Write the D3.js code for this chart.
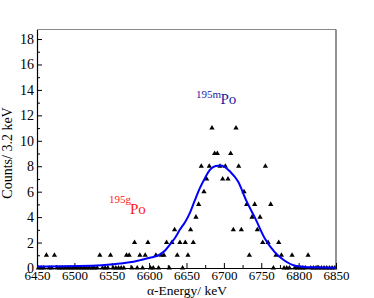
<!DOCTYPE html>
<html>
<head>
<meta charset="utf-8">
<script src="https://cdn.jsdelivr.net/npm/d3@7"></script>
<style>
  body { margin: 0; background: #fff; }
</style>
</head>
<body>
<svg id="chart" width="374" height="298"></svg>
<script>
// histogram: first bin centre and bin width (keV), counts per bin
const binStart = 6451.9;
const binWidth = 3.572;
const counts = [
  0, 0, 0, 1, 0, 0, 1, 0, 0, 0,   // 0-9
  0, 0, 0, 0, 0, 0, 0, 0, 0, 0,   // 10-19
  0, 0, 0, 1, 0, 0, 0, 1, 0, 0,   // 20-29
  0, 0, 0, 1, 1, 0, 2, 0, 1, 0,   // 30-39
  1, 2, 0, 0, 1, 0, 1, 1, 2, 0,   // 40-49
  2, 3, 1, 2, 0, 2, 1, 3, 2, 4,   // 50-59
  5, 8, 6, 7, 8, 11, 9, 9, 8, 7,  // 60-69
  8, 7, 9, 3, 11, 8, 3, 6, 5, 1,  // 70-79
  4, 5, 3, 4, 2, 8, 2, 5, 0, 1,   // 80-89
  2, 1, 0, 0, 0, 1, 0, 0, 0, 0,   // 90-99
  0, 1, 0, 0, 0, 0, 0, 0, 0, 0,   // 100-109
  0, 0                            // 110-111
];

// fitted curve
const fitE = [6450, 6530, 6561, 6574, 6588, 6601, 6614, 6621, 6628, 6635, 6641, 6648,
  6655, 6661, 6668, 6675, 6681, 6688, 6695, 6701, 6708, 6719, 6730, 6742, 6755,
  6768, 6780, 6797, 6819, 6850];
const fitV = [0.12, 0.2, 0.35, 0.45, 0.62, 0.8, 1.05, 1.35, 1.85, 2.4, 3.0, 3.6,
  4.4, 5.3, 6.3, 7.1, 7.7, 8.0, 8.05, 7.95, 7.6, 6.8, 5.3, 3.9, 2.3,
  1.25, 0.63, 0.16, 0.05, 0.02];

const xTicks = [6450, 6500, 6550, 6600, 6650, 6700, 6750, 6800, 6850];
const yTicks = [0, 2, 4, 6, 8, 10, 12, 14, 16, 18];

const serif = "'Liberation Serif', 'Times New Roman', 'DejaVu Serif', serif";
const svg = d3.select("#chart").attr("font-family", serif);
const mLeft = 37, mRight = 336, mTop = 29.5, mBottom = 268;

const x = d3.scaleLinear().domain([6450, 6850]).range([mLeft, mRight]);
const y = d3.scaleLinear().domain([0, 18.75]).range([mBottom, mTop]);

// frame top / right
svg.append("line").attr("x1", mLeft).attr("x2", mRight).attr("y1", mTop).attr("y2", mTop)
  .attr("stroke", "#8a8a8a").attr("stroke-width", 1.2);
svg.append("line").attr("x1", mRight).attr("x2", mRight).attr("y1", mTop).attr("y2", mBottom)
  .attr("stroke", "#4a4a4a").attr("stroke-width", 1.2);

// x axis, ticks inward
const xAxis = svg.append("g").attr("transform", `translate(0,${mBottom})`)
  .call(d3.axisBottom(x).tickValues(xTicks).tickSize(-5).tickSizeOuter(0).tickPadding(2.5).tickFormat(d3.format("d")));
svg.append("g").attr("transform", `translate(0,${mBottom})`)
  .call(d3.axisBottom(x).tickValues(d3.range(6475, 6850, 50)).tickSize(-3).tickSizeOuter(0).tickFormat(""))
  .select(".domain").remove();

// y axis, ticks inward
const yAxis = svg.append("g").attr("transform", `translate(${mLeft},0)`)
  .call(d3.axisLeft(y).tickValues(yTicks).tickSize(-5).tickSizeOuter(0).tickPadding(3));
svg.append("g").attr("transform", `translate(${mLeft},0)`)
  .call(d3.axisLeft(y).tickValues(d3.range(1, 18, 2)).tickSize(-3).tickSizeOuter(0).tickFormat(""))
  .select(".domain").remove();

svg.selectAll("g").attr("font-family", serif);
svg.selectAll(".tick line").attr("stroke", "#000");
svg.selectAll(".domain").attr("stroke", "#000").attr("stroke-width", 1.2);
xAxis.selectAll("text").attr("font-size", 13).attr("fill", "#000");
yAxis.selectAll("text").attr("font-size", 14).attr("fill", "#000");

// data points
const pts = counts.map((c, i) => ({ e: binStart + i * binWidth, c }));
svg.append("g").selectAll("path").data(pts).join("path")
  .attr("transform", d => `translate(${x(d.e)},${y(d.c)})`)
  .attr("d", d3.symbol(d3.symbolTriangle, 12))
  .attr("fill", "#000");

// fit curve
const line = d3.line().x((d, i) => x(fitE[i])).y(d => y(d)).curve(d3.curveMonotoneX);
svg.append("path").datum(fitV).attr("d", line)
  .attr("fill", "none").attr("stroke", "#0000ff").attr("stroke-width", 2);

// labels
svg.append("text").attr("x", 196).attr("y", 97.5).attr("font-size", 11).attr("fill", "#1c1ca0").text("195m");
svg.append("text").attr("x", 220.5).attr("y", 104).attr("font-size", 15).attr("fill", "#1c1ca0").text("Po");
svg.append("text").attr("x", 109).attr("y", 203).attr("font-size", 11).attr("fill", "#ff1a1a").text("195g");
svg.append("text").attr("x", 130).attr("y", 214).attr("font-size", 15).attr("fill", "#ff1a1a").text("Po");

// axis titles
svg.append("text").attr("x", 187).attr("y", 294.5).attr("text-anchor", "middle")
  .attr("font-size", 13.5).text("α-Energy/ keV");
svg.append("text").attr("transform", "translate(11.5,153) rotate(-90)").attr("text-anchor", "middle")
  .attr("font-size", 14).text("Counts/ 3.2 keV");
</script>
</body>
</html>
